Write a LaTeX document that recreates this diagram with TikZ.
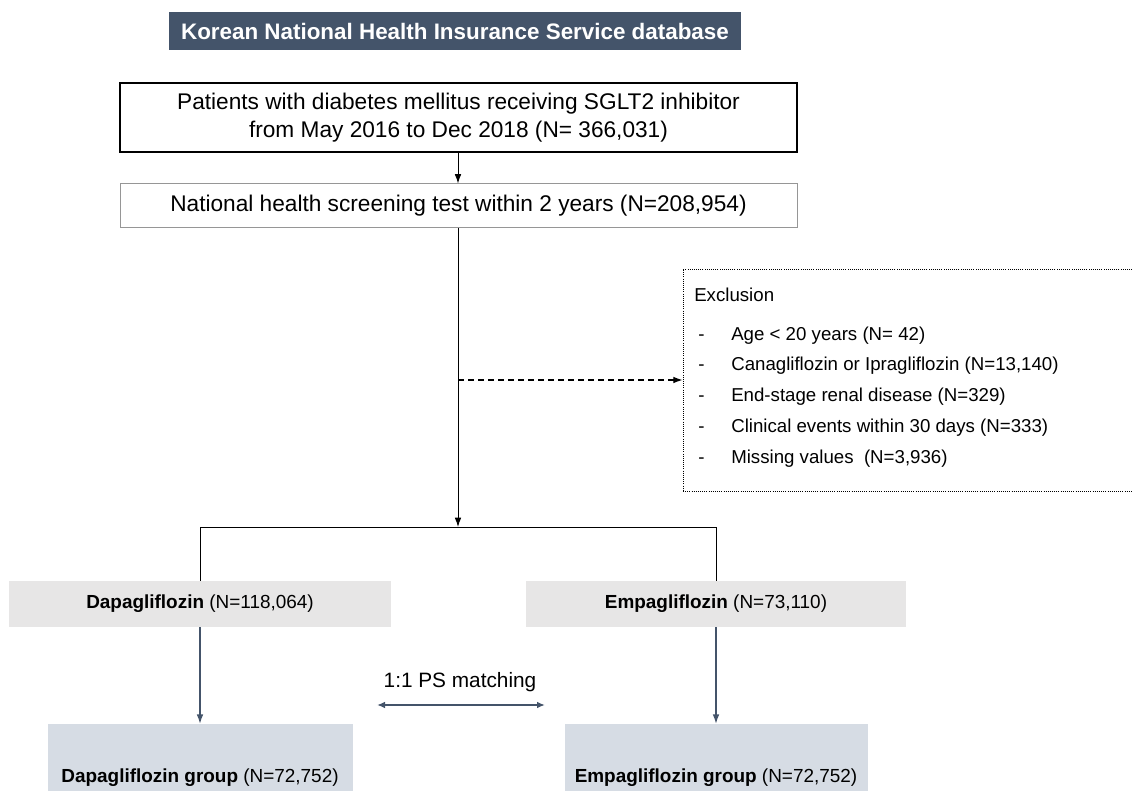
\documentclass[tikz,border=0pt]{standalone}
\usepackage{fontspec}
\setmainfont{Liberation Sans}
\usepackage{tikz}
\usetikzlibrary{arrows.meta}

\definecolor{slate}{RGB}{68,84,106}
\definecolor{boxgray}{RGB}{231,230,230}
\definecolor{groupblue}{RGB}{214,220,228}

\begin{document}
\begin{tikzpicture}[x=0.75pt,y=0.75pt,yscale=-1,xscale=1,
    flowbox/.style={draw, rectangle, inner sep=0.75pt, align=center, font=\fontsize{17}{20.5}\selectfont},
    armbox/.style={rectangle, fill=boxgray, inner sep=0.75pt, font=\fontsize{14.2}{17}\selectfont},
    groupbox/.style={rectangle, fill=groupblue, inner sep=0.75pt, font=\fontsize{14.2}{17}\selectfont},
    exctext/.style={anchor=west, inner sep=0.75pt, text height=10pt, text depth=3pt, font=\fontsize{14}{17}\selectfont},
    tip/.style={-{Latex[length=7pt,width=5pt]}}]
        \useasboundingbox (0,0) rectangle (1132,791);

        %Shape: Rectangle [title]
        \node (nhis) [fill=slate, text=white, inner sep=0.75pt, minimum width=429pt, minimum height=28.5pt, font=\bfseries\fontsize{16.8}{20}\selectfont] at (455,31) {Korean National Health Insurance Service database};
        %Shape: Rectangle [patients]
        \node (sglt) [flowbox, line width=1pt, minimum width=507.75pt, minimum height=51.75pt] at (458.5,117.5) {Patients with diabetes mellitus receiving SGLT2 inhibitor\\from May 2016 to Dec 2018 (N= 366,031)};
        %Shape: Rectangle [screening]
        \node (screen) [flowbox, draw={rgb, 255:red, 150; green, 150; blue, 150 }, line width=0.75pt, minimum width=507.75pt, minimum height=33pt] at (458.5,206) {National health screening test within 2 years (N=208,954)};
        %Shape: Rectangle [exclusion]
        \node (excl) [draw, densely dotted, line width=0.6pt, rectangle, minimum width=342.75pt, minimum height=166.5pt] at (911.5,380) {};
        %Shape: Rectangle [arms]
        \node (dapa) [armbox, minimum width=286.5pt, minimum height=34.5pt] at (200,604) {\textbf{Dapagliflozin} (N=118,064)};
        \node (empa) [armbox, minimum width=285pt, minimum height=34.5pt] at (716,604) {\textbf{Empagliflozin} (N=73,110)};
        %Shape: Rectangle [matched groups]
        \node (dgroup) [groupbox, minimum width=228.75pt, minimum height=81pt] at (200,778) {\textbf{Dapagliflozin group} (N=72,752)};
        \node (egroup) [groupbox, minimum width=227.25pt, minimum height=81pt] at (716,778) {\textbf{Empagliflozin group} (N=72,752)};

        % Text Node
        \node (exclhead) [exctext] at (693,297) {Exclusion};
        % Text Node
        \node (dash1) [exctext] at (697,336) {-};
        \node (item1) [exctext] at (730,336) {Age < 20 years (N= 42)};
        % Text Node
        \node (dash2) [exctext] at (697,366) {-};
        \node (item2) [exctext] at (730,366) {Canagliflozin or Ipragliflozin (N=13,140)};
        % Text Node
        \node (dash3) [exctext] at (697,397) {-};
        \node (item3) [exctext] at (730,397) {End-stage renal disease (N=329)};
        % Text Node
        \node (dash4) [exctext] at (697,428) {-};
        \node (item4) [exctext] at (730,428) {Clinical events within 30 days (N=333)};
        % Text Node
        \node (dash5) [exctext] at (697,459) {-};
        \node (item5) [exctext] at (730,459) {Missing values~ (N=3,936)};
        % Text Node
        \node (psm) [inner sep=0.75pt, font=\fontsize{15.6}{19}\selectfont] at (460,682) {1:1 PS matching};

        %Straight Lines [flow]
        \coordinate (split) at (458,527);
        \coordinate (excfrom) at (458,380);
        \coordinate (dsplit) at (200,527);
        \coordinate (esplit) at (716,527);
        \coordinate (psl) at (377,705);
        \coordinate (psr) at (545,705);
        \draw [tip, line width=0.75pt] (sglt.south -| split) -- (screen.north -| split);
        \draw [tip, line width=0.75pt] (screen.south -| split) -- (split);
        \draw [tip, dash pattern=on 4.5pt off 3pt, line width=0.9pt] (excfrom) -- (excl.west);
        \draw [line width=0.75pt] (dsplit) -- (esplit);
        \draw [line width=0.75pt] (dsplit) -- (dapa.north);
        \draw [line width=0.75pt] (esplit) -- (empa.north);
        \draw [tip, color=slate, line width=0.9pt] (dapa.south) -- (dgroup.north);
        \draw [tip, color=slate, line width=0.9pt] (empa.south) -- (egroup.north);
        \draw [{Latex[length=6pt,width=5pt]}-{Latex[length=6pt,width=5pt]}, color=slate, line width=1.2pt] (psl) -- (psr);
\end{tikzpicture}
\end{document}
